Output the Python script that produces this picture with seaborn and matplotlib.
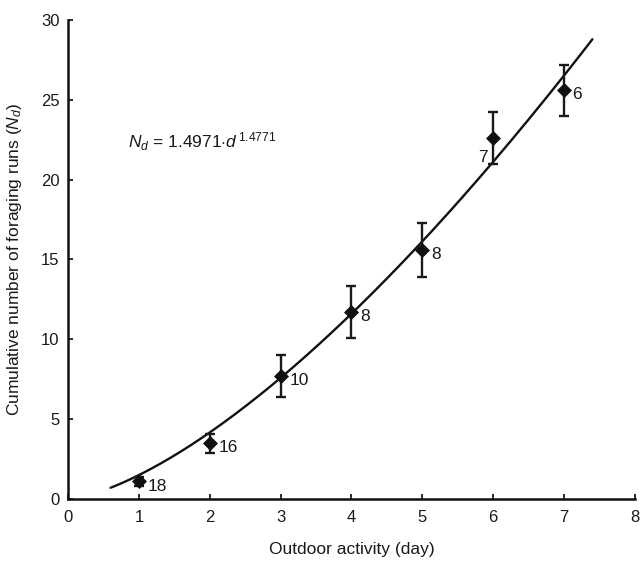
import numpy as np
import pandas as pd
import matplotlib
matplotlib.use("Agg")
import matplotlib.pyplot as plt
import seaborn as sns

days = [1, 2, 3, 4, 5, 6, 7]
mean_runs = [1.1, 3.5, 7.7, 11.7, 15.6, 22.6, 25.6]
err_runs = [0.3, 0.6, 1.3, 1.65, 1.7, 1.65, 1.6]
n_labels = ["18", "16", "10", "8", "8", "7", "6"]
coef_a = 1.4971
coef_b = 1.4771
fit_range = [0.6, 7.4]

sns.set_theme(style="ticks")
plt.rcParams['font.family'] = ['Liberation Sans', 'DejaVu Sans']
plt.rcParams['mathtext.fontset'] = 'custom'
plt.rcParams['mathtext.rm'] = 'Liberation Sans'
plt.rcParams['mathtext.it'] = 'Liberation Sans:italic'
plt.rcParams['text.color'] = '#1a1a1a'
plt.rcParams['axes.labelcolor'] = '#1a1a1a'
plt.rcParams['xtick.color'] = '#1a1a1a'
plt.rcParams['ytick.color'] = '#1a1a1a'

fig = plt.figure(figsize=(6.42, 5.63), dpi=100)
ax = fig.add_axes([0.106, 0.1137, 0.883, 0.851])

xs = np.linspace(fit_range[0], fit_range[1], 200)
fit_df = pd.DataFrame({"d": xs, "N": coef_a * xs ** coef_b})
sns.lineplot(data=fit_df, x="d", y="N", ax=ax, color="#111111", lw=1.7)

df = pd.DataFrame({"d": days, "N": mean_runs, "e": err_runs})
ax.errorbar(df["d"], df["N"], yerr=df["e"], fmt="none", ecolor="#1a1a1a",
            elinewidth=1.7, capsize=3.5, capthick=1.7)
sns.scatterplot(data=df, x="d", y="N", ax=ax, marker="D", s=50, color="#111111",
                edgecolor="#111111", zorder=5)

for d, n, lab in zip(days, mean_runs, n_labels):
    if lab == "7":
        ax.text(d - 0.08, n - 1.2, lab, ha="right", va="center", fontsize=12.5)
    else:
        ax.text(d + 0.12, n - 0.3, lab, ha="left", va="center", fontsize=12.5)

ax.text(0.85, 22.4, r"$N_d$ = 1.4971$\cdot$$d^{\,1.4771}$", fontsize=12.5,
        ha="left", va="center")

ax.set_xlim(0, 8)
ax.set_ylim(0, 30)
ax.set_xticks(range(0, 9))
ax.set_yticks(range(0, 31, 5))
ax.set_xlabel("Outdoor activity (day)", fontsize=12.5, labelpad=12)
ax.set_ylabel(r"Cumulative number of foraging runs ($N_d$)", fontsize=12.5, labelpad=12)
ax.tick_params(direction="in", labelsize=12, width=1.3, length=3.5)
ax.tick_params(axis="x", pad=8)
ax.tick_params(axis="y", pad=6)
sns.despine(ax=ax)
for s in ["left", "bottom"]:
    ax.spines[s].set_linewidth(1.8)
    ax.spines[s].set_color("#111111")

fig.savefig("out.png", dpi=100)
